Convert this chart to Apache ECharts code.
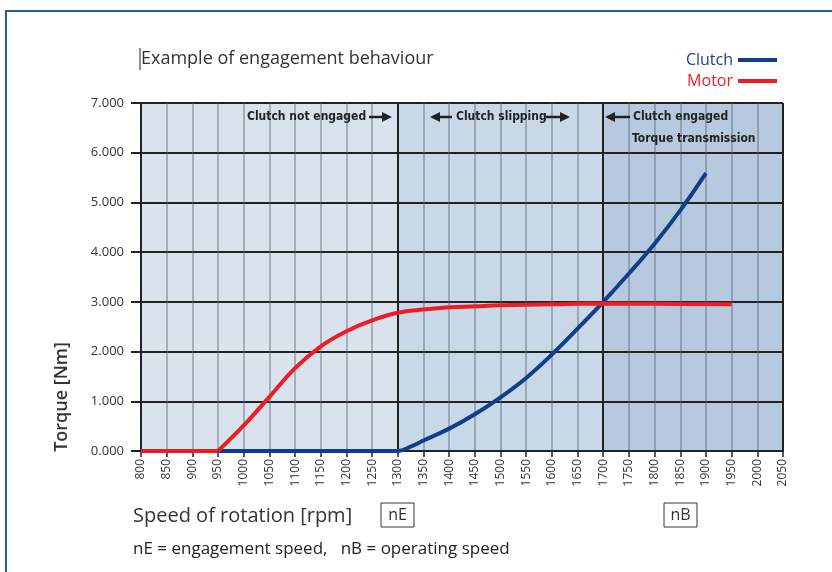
<!DOCTYPE html>
<html>
<head>
<meta charset="utf-8">
<script src="https://cdn.jsdelivr.net/npm/echarts@6/dist/echarts.min.js"></script>
<style>
  html, body { margin: 0; padding: 0; background: #fff; }
  #chart { width: 832px; height: 572px; }
</style>
</head>
<body>
<div id="chart"></div>
<script>
// motor curve (rpm / Nm)
const motorRpm = [800, 900, 950, 1000, 1050, 1100, 1150, 1200, 1250, 1300, 1350, 1400, 1450, 1500, 1600, 1700, 1800, 1950];
const motorTorque = [0, 0, 0, 514, 1089, 1667, 2106, 2410, 2628, 2780, 2845, 2890, 2910, 2930, 2950, 2965, 2960, 2950];
const motorStart = 950; // motor starts pulling here (sharp corner)

// clutch curve
const clutchRpm = [950, 1250, 1300, 1325, 1350, 1400, 1450, 1500, 1550, 1600, 1650, 1700, 1750, 1800, 1850, 1900];
const clutchTorque = [0, 0, 0, 88, 210, 450, 740, 1080, 1470, 1940, 2460, 3000, 3570, 4170, 4840, 5590];

// phases
const phaseBounds = [800, 1300, 1700, 2050];
const phaseColors = ['#d9e3ee', '#c8d8e7', '#b6c9de'];

const pairs = (xs, ys) => xs.map((x, i) => [x, ys[i]]);
const motorAll = pairs(motorRpm, motorTorque);
const motorIdle = motorAll.filter(p => p[0] <= motorStart);
const motorRun = motorAll.filter(p => p[0] >= motorStart);

const font = "'Open Sans', 'Noto Sans', sans-serif";
const narrow = "'Liberation Sans Narrow', 'DejaVu Sans Condensed', sans-serif";

function arrow(x1, x2, y) {
  // line + head, head at x2
  const dir = x2 > x1 ? 1 : -1;
  return [
    {type: 'line', shape: {x1: x1, y1: y, x2: x2 - dir * 8, y2: y}, style: {stroke: '#222', lineWidth: 2.5}, z: 10},
    {type: 'polygon', shape: {points: [[x2, y], [x2 - dir * 10, y - 5], [x2 - dir * 10, y + 5]]}, style: {fill: '#222'}, z: 10}
  ];
}

function label(text, x, y) {
  return {type: 'text', x: x, y: y, z: 10,
    style: {text: text, font: 'bold 12px ' + narrow, fill: '#222', textVerticalAlign: 'middle'}};
}

function box(text, x, y) {
  return [
    {type: 'rect', shape: {x: x, y: y, width: 33, height: 24}, style: {fill: '#fff', stroke: '#333', lineWidth: 1}},
    {type: 'text', x: x + 16.5, y: y + 12, style: {text: text, font: '16px ' + font, fill: '#333', textAlign: 'center', textVerticalAlign: 'middle'}}
  ];
}

const motorStyle = {color: '#ee1c25', width: 4};

const chart = echarts.init(document.getElementById('chart'));
chart.setOption({
  animation: false,
  backgroundColor: '#fff',
  grid: {left: 141, right: 49, top: 103, bottom: 121},
  legend: {
    orient: 'vertical', right: 50, top: 47, align: 'right',
    icon: 'rect', itemWidth: 39, itemHeight: 4, itemGap: 5,
    textStyle: {fontFamily: font, fontSize: 16},
    data: [
      {name: 'Clutch', textStyle: {color: '#1b3f8b'}},
      {name: 'Motor', textStyle: {color: '#ee1c25'}}
    ]
  },
  xAxis: {
    type: 'value', min: 800, max: 2050, interval: 50, z: 2,
    axisLine: {lineStyle: {color: '#222', width: 2}},
    axisTick: {show: true, length: 6, lineStyle: {color: '#222', width: 1.5}},
    axisLabel: {rotate: 90, fontFamily: font, fontSize: 12, color: '#333', margin: 8,
      formatter: v => String(v)},
    splitLine: {show: true, lineStyle: {color: 'rgba(90,100,115,0.55)', width: 1.5}}
  },
  yAxis: {
    type: 'value', min: 0, max: 7000, interval: 1000, z: 2,
    axisLine: {show: true, lineStyle: {color: '#222', width: 2}},
    axisTick: {show: true, length: 10, lineStyle: {color: '#222', width: 2}},
    axisLabel: {fontFamily: font, fontSize: 13, color: '#333', margin: 17,
      formatter: v => (v / 1000).toFixed(3)},
    splitLine: {show: true, lineStyle: {color: '#222', width: 2}}
  },
  series: [
    {
      name: 'phases', type: 'line', data: [], z: 0, silent: true,
      markArea: {
        silent: true, z: 0,
        data: phaseColors.map((c, i) => [
          {xAxis: phaseBounds[i], yAxis: 0, itemStyle: {color: c}},
          {xAxis: phaseBounds[i + 1], yAxis: 7000}
        ])
      }
    },
    {
      name: 'bounds', type: 'line', data: [], z: 3, silent: true,
      markLine: {
        silent: true, symbol: 'none', label: {show: false},
        lineStyle: {color: '#222', width: 2, type: 'solid'},
        data: phaseBounds.slice(1).map(v => ({xAxis: v}))
      }
    },
    {
      name: 'Clutch', type: 'line', z: 6,
      data: pairs(clutchRpm, clutchTorque),
      smooth: 0.4, showSymbol: false,
      color: '#0f3f8c',
      lineStyle: {color: '#0f3f8c', width: 4}
    },
    {
      name: 'Motor', type: 'line', z: 7,
      data: motorIdle, showSymbol: false,
      color: '#ee1c25', lineStyle: motorStyle
    },
    {
      name: 'Motor', type: 'line', z: 7,
      data: motorRun, smooth: 0.4, showSymbol: false,
      color: '#ee1c25', lineStyle: motorStyle
    }
  ],
  graphic: [
    {type: 'rect', shape: {x: 6, y: 11, width: 900, height: 600}, style: {fill: 'none', stroke: '#2a5a9e', lineWidth: 2}},
    {type: 'line', shape: {x1: 140, y1: 48, x2: 140, y2: 70}, style: {stroke: '#222', lineWidth: 1}},
    {type: 'text', x: 141, y: 59, style: {text: 'Example of engagement behaviour', font: '18px ' + font, fill: '#333', textVerticalAlign: 'middle'}},
    {type: 'text', x: 62, y: 397, rotation: Math.PI / 2,
      style: {text: 'Torque [Nm]', font: '600 18px ' + font, fill: '#333', textAlign: 'center', textVerticalAlign: 'middle'}},
    {type: 'text', x: 133, y: 516, style: {text: 'Speed of rotation [rpm]', font: '20px ' + font, fill: '#333', textVerticalAlign: 'middle'}},
    {type: 'text', x: 133, y: 549, style: {text: 'nE = engagement speed,   nB = operating speed', font: '17px ' + font, fill: '#222', textVerticalAlign: 'middle'}},
    ...box('nE', 381, 503),
    ...box('nB', 664, 503),
    label('Clutch not engaged', 247, 117),
    ...arrow(369, 392, 117),
    ...arrow(452, 430, 117),
    label('Clutch slipping', 456, 117),
    ...arrow(546, 570, 117),
    ...arrow(630, 605, 117),
    label('Clutch engaged', 633, 117),
    label('Torque transmission', 632, 139)
  ]
});
</script>
</body>
</html>
